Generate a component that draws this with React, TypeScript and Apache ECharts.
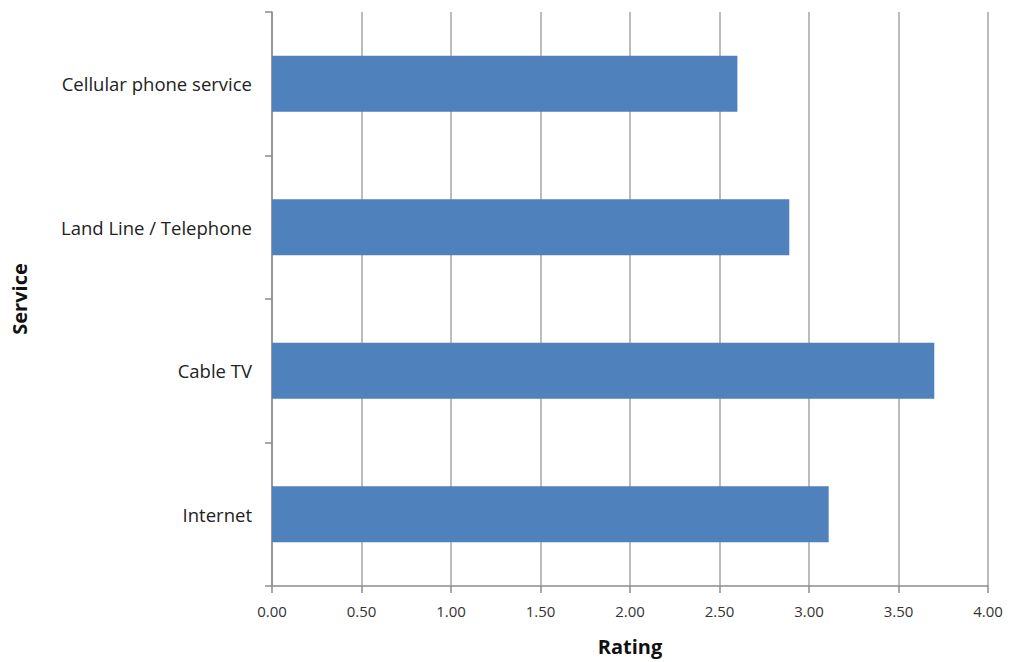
import React, { useEffect, useRef } from "react";
import * as echarts from "echarts";

// Services (bottom to top as drawn on the category axis)
const services = ["Internet", "Cable TV", "Land Line / Telephone", "Cellular phone service"];
// Average rating for each service
const ratings = [3.11, 3.7, 2.89, 2.6];
// Rating axis ticks
const ratingMin = 0;
const ratingMax = 4;
const ratingStep = 0.5;

const FONT = "'Open Sans', 'Liberation Sans', sans-serif";

export default function App() {
  const ref = useRef<HTMLDivElement>(null);

  useEffect(() => {
    document.body.style.margin = "0";
    if (!ref.current) return;
    const chart = echarts.init(ref.current, null, { renderer: "svg" });
    chart.setOption({
      animation: false,
      backgroundColor: "#ffffff",
      grid: {
        left: 272,
        right: 23,
        top: 12,
        bottom: 76,
        containLabel: false,
        outerBoundsMode: "none",
      },
      xAxis: {
        type: "value",
        min: ratingMin,
        max: ratingMax,
        interval: ratingStep,
        name: "Rating",
        nameLocation: "middle",
        nameGap: 50,
        nameTextStyle: { fontFamily: FONT, fontSize: 20, fontWeight: "bold", color: "#111" },
        axisLine: { show: true, lineStyle: { color: "#8c8c8c", width: 1.5 } },
        axisTick: { show: true, length: 7, lineStyle: { color: "#8c8c8c", width: 1.5 } },
        axisLabel: {
          fontFamily: FONT,
          fontSize: 15,
          color: "#333",
          margin: 17,
          formatter: (v: number) => v.toFixed(2),
        },
        splitLine: { show: true, lineStyle: { color: "#a6a6a6", width: 1.5 } },
      },
      yAxis: {
        type: "category",
        data: services,
        name: "Service",
        nameLocation: "middle",
        nameGap: 243,
        nameRotate: 90,
        nameTextStyle: { fontFamily: FONT, fontSize: 20, fontWeight: "bold", color: "#111" },
        axisLine: { show: true, lineStyle: { color: "#8c8c8c", width: 1.5 } },
        axisTick: { show: true, length: 7, lineStyle: { color: "#8c8c8c", width: 1.5 } },
        axisLabel: { fontFamily: FONT, fontSize: 18.5, color: "#222", margin: 20 },
        splitLine: { show: false },
      },
      series: [
        {
          type: "bar",
          data: ratings,
          barCategoryGap: "61%",
          itemStyle: { color: "#4F81BD" },
        },
      ],
    });
    return () => chart.dispose();
  }, []);

  return <div ref={ref} style={{ width: 1011, height: 662 }} />;
}
